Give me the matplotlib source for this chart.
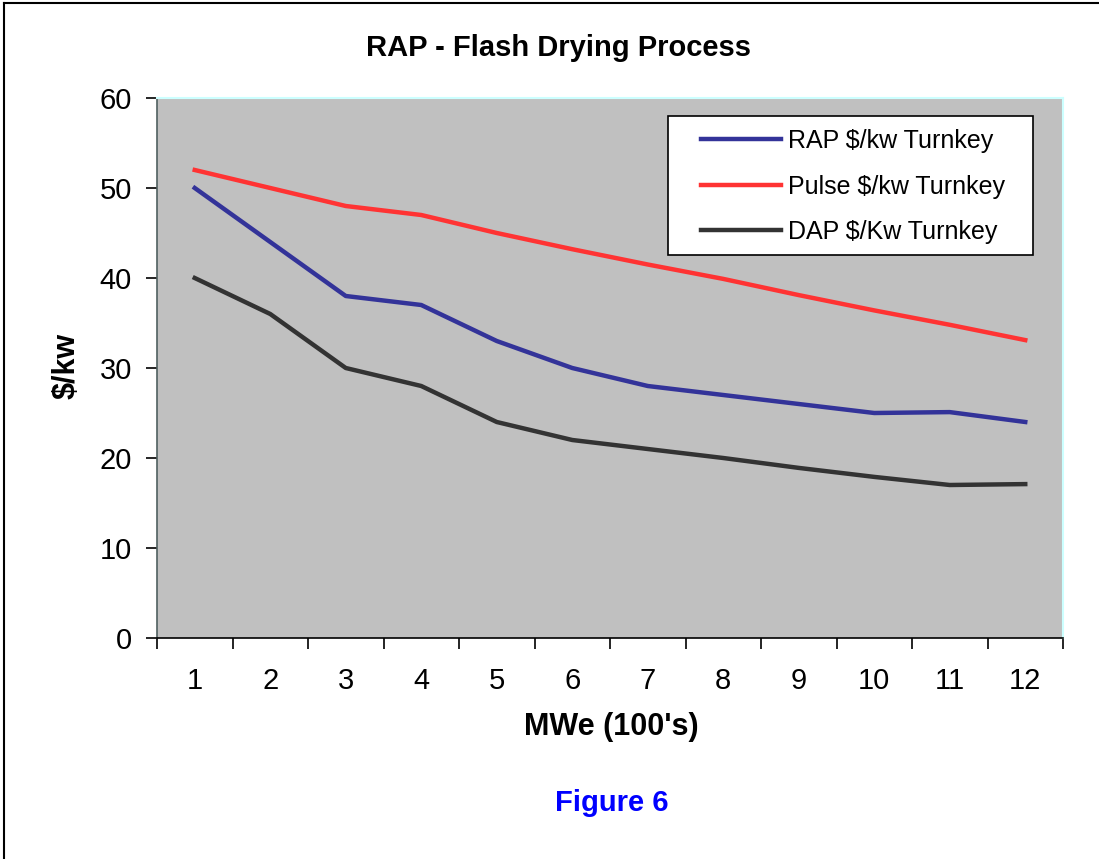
import matplotlib
matplotlib.use("Agg")
import matplotlib.pyplot as plt
from matplotlib.lines import Line2D
from matplotlib.patches import Rectangle

plt.rcParams['font.family'] = ['Liberation Sans', 'DejaVu Sans']

mwe = [1, 2, 3, 4, 5, 6, 7, 8, 9, 10, 11, 12]
rap = [50, 44, 38, 37, 33, 30, 28, 27, 26, 25, 25.1, 24]
pulse = [52, 50, 48, 47, 45, 43.2, 41.5, 39.9, 38.1, 36.4, 34.8, 33.1]
dap = [40, 36, 30, 28, 24, 22, 21, 20, 18.9, 17.9, 17, 17.1]

W, H = 1099, 859
L, R, T, B = 157, 1063, 98, 638

fig = plt.figure(figsize=(W / 100, H / 100), dpi=100)
ax = fig.add_axes([L / W, 1 - B / H, (R - L) / W, (B - T) / H])
ax.set_facecolor('#c0c0c0')

ax.plot(mwe, rap, color='#333399', lw=3.2, label='RAP $/kw Turnkey')
ax.plot(mwe, pulse, color='#ff3333', lw=3.2, label='Pulse $/kw Turnkey')
ax.plot(mwe, dap, color='#333333', lw=3.2, label='DAP $/Kw Turnkey')

ax.set_xlim(0.5, 12.5)
ax.set_ylim(0, 60)
ax.set_yticks(range(0, 61, 10))
ax.set_xticks(mwe)
ax.set_xticks([x + 0.5 for x in range(0, 13)], minor=True)
ax.tick_params(axis='x', which='major', length=0, labelsize=21, pad=21)
ax.tick_params(axis='x', which='minor', length=8, width=1.2, direction='out')
ax.tick_params(axis='y', length=8, width=1.2, labelsize=21, pad=10)

for side in ['top', 'right']:
    ax.spines[side].set_color('#ccffff')
    ax.spines[side].set_linewidth(1.5)
ax.spines['left'].set_color('#506060')
ax.spines['left'].set_linewidth(1.2)
ax.spines['bottom'].set_color('black')
ax.spines['bottom'].set_linewidth(1.2)

def px(x, y):
    # pixel position -> axes fraction
    return ((x - L) / (R - L), (B - y) / (B - T))

fig.text(559 / W, 1 - 48 / H, 'RAP - Flash Drying Process', ha='center', va='center',
         fontsize=21, fontweight='bold')
fig.text(67 / W, 1 - 366 / H, '$/kw', ha='center', va='center', rotation=90,
         fontsize=22, fontweight='bold')
fig.text(611 / W, 1 - 727 / H, "MWe (100's)", ha='center', va='center',
         fontsize=22, fontweight='bold')
fig.text(612 / W, 1 - 803 / H, 'Figure 6', ha='center', va='center',
         fontsize=21, fontweight='bold', color='#0000ff')

# legend box drawn separately, legend itself without frame
ax.add_patch(Rectangle(px(668, 255), (1033 - 668) / (R - L), (255 - 116) / (B - T),
                       transform=ax.transAxes, facecolor='white', edgecolor='black',
                       lw=1.2, zorder=4))
leg = ax.legend(loc='upper left', bbox_to_anchor=px(701, 129), fontsize=18,
                frameon=False, borderpad=0, borderaxespad=0,
                handlelength=3.2, labelspacing=0.86, handletextpad=0.3)
leg.set_zorder(5)

# page border (left and top)
fig.add_artist(Line2D([4 / W, 4 / W], [0, 1 - 3 / H], color='black', lw=1.5,
                      transform=fig.transFigure))
fig.add_artist(Line2D([4 / W, 1], [1 - 3 / H, 1 - 3 / H], color='black', lw=1.5,
                      transform=fig.transFigure))

fig.savefig('out.png', dpi=100)
